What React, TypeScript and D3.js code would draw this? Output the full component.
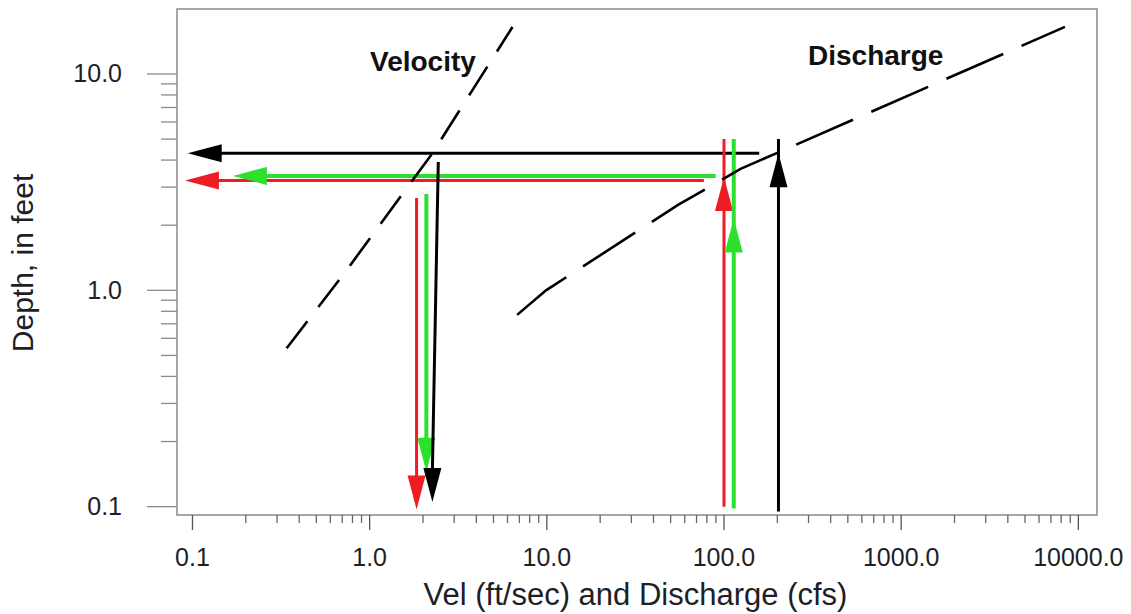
import React from "react";
import * as d3 from "d3";

// ---- data ----
const xTickValues = [0.1, 1, 10, 100, 1000, 10000];
const xTickLabels = ["0.1", "1.0", "10.0", "100.0", "1000.0", "10000.0"];
const yTickValues = [0.1, 1, 10];
const yTickLabels = ["0.1", "1.0", "10.0"];

// velocity curve [vel ft/s, depth ft]
const velocityCurve: [number, number][] = [
  [0.34, 0.54],
  [0.72, 1.2],
  [2.26, 4.3],
  [6.4, 16.5],
];
// discharge curve [cfs, depth ft]
const dischargeCurve: [number, number][] = [
  [6.8, 0.77],
  [9.9, 1.0],
  [55, 2.48],
  [124, 3.64],
  [8400, 16.5],
];

// horizontal arrows pointing left: depth, start x value, tip x value
const hArrowColors = ["#ee1c25", "#2ee02e", "#000000"];
const hArrowDepths = [3.22, 3.38, 4.3];
const hArrowStarts = [77, 89.7, 158];
const hArrowTips = [0.0907, 0.169, 0.094];

// vertical arrows pointing down (velocity read-off)
const vDownColors = ["#ee1c25", "#2ee02e", "#000000"];
const vDownXTop = [1.84, 2.09, 2.44];
const vDownXTip = [1.84, 2.09, 2.26];
const vDownTop = [2.67, 2.79, 3.92];
const vDownTip = [0.097, 0.145, 0.105];

// vertical arrows pointing up (discharge)
const vUpColors = ["#ee1c25", "#2ee02e", "#000000"];
const vUpX = [100, 113.5, 203];
const vUpBottom = [0.1, 0.098, 0.095];
const vUpTop = [5.0, 5.0, 5.0];
const vUpTip = [3.34, 2.15, 4.3];

const W = 1131;
const H = 614;
const left = 177, right = 1097, top = 9, bottom = 515;

const xScale = d3.scaleLog().domain([0.08178, 12743]).range([left, right]);
const yScale = d3.scaleLog().domain([0.0915, 19.97]).range([bottom, top]);

const font = "'Liberation Sans', Arial, sans-serif";
const axisColor = "#8a8a8a";
const textColor = "#1e1e28";

const headLen = 34;
const headHalf = 9;

function widthOf(c: string) {
  return c === "#2ee02e" ? 4 : 3;
}

export default function App() {
  const line = d3
    .line<[number, number]>()
    .x((d) => xScale(d[0]))
    .y((d) => yScale(d[1]));

  const xMinor = xScale.ticks().filter((v) => v >= 0.1 - 1e-9 && v <= 10000 + 1e-6);
  const yMinor = yScale.ticks().filter((v) => v >= 0.1 - 1e-9 && v <= 10 + 1e-6);
  const isMajor = (v: number) => Math.abs(Math.log10(v) - Math.round(Math.log10(v))) < 1e-6;

  return (
    <svg
      width={W}
      height={H}
      style={{ position: "absolute", left: 0, top: 0, background: "#ffffff" }}
    >
      <rect x={0} y={0} width={W} height={H} fill="#ffffff" />
      {/* frame */}
      <rect
        x={left}
        y={top}
        width={right - left}
        height={bottom - top}
        fill="none"
        stroke={axisColor}
        strokeWidth={1.5}
      />
      {/* x ticks */}
      {xMinor.map((v, i) => (
        <line
          key={"xt" + i}
          x1={xScale(v)}
          x2={xScale(v)}
          y1={bottom}
          y2={bottom + (isMajor(v) ? 15 : 8)}
          stroke={isMajor(v) ? "#555" : "#666"}
          strokeWidth={1.3}
        />
      ))}
      {xTickValues.map((v, i) => (
        <text
          key={"xl" + i}
          x={xScale(v)}
          y={566}
          textAnchor="middle"
          fontFamily={font}
          fontSize={25}
          fill={textColor}
        >
          {xTickLabels[i]}
        </text>
      ))}
      {/* y ticks */}
      {yMinor.map((v, i) => (
        <line
          key={"yt" + i}
          x1={left - (isMajor(v) ? 30 : 16)}
          x2={left}
          y1={yScale(v)}
          y2={yScale(v)}
          stroke={axisColor}
          strokeWidth={1.3}
        />
      ))}
      {yTickValues.map((v, i) => (
        <text
          key={"yl" + i}
          x={122}
          y={yScale(v) + 8.5}
          textAnchor="end"
          fontFamily={font}
          fontSize={25}
          fill={textColor}
        >
          {yTickLabels[i]}
        </text>
      ))}
      {/* axis titles */}
      <text
        x={635.5}
        y={605}
        textAnchor="middle"
        fontFamily={font}
        fontSize={31}
        fill={textColor}
      >
        Vel (ft/sec) and Discharge (cfs)
      </text>
      <text
        transform="translate(33,263) rotate(-90)"
        textAnchor="middle"
        fontFamily={font}
        fontSize={30}
        fill={textColor}
      >
        Depth, in feet
      </text>

      {/* horizontal arrows */}
      {hArrowColors.map((c, i) => {
        const y = yScale(hArrowDepths[i]);
        const x0 = xScale(hArrowStarts[i]);
        const tip = xScale(hArrowTips[i]);
        return (
          <g key={"ha" + i}>
            <line x1={x0} x2={tip + headLen - 2} y1={y} y2={y} stroke={c} strokeWidth={widthOf(c)} />
            <polygon
              points={`${tip},${y} ${tip + headLen},${y - headHalf} ${tip + headLen},${y + headHalf}`}
              fill={c}
            />
          </g>
        );
      })}

      {/* vertical up arrows (discharge) */}
      {vUpColors.map((c, i) => {
        const x = xScale(vUpX[i]);
        const yb = yScale(vUpBottom[i]);
        const yt = yScale(vUpTop[i]);
        const tip = yScale(vUpTip[i]);
        return (
          <g key={"vu" + i}>
            <line x1={x} x2={x} y1={yb} y2={yt} stroke={c} strokeWidth={widthOf(c)} />
            <polygon
              points={`${x},${tip} ${x - headHalf},${tip + headLen} ${x + headHalf},${tip + headLen}`}
              fill={c}
            />
          </g>
        );
      })}

      {/* vertical down arrows (velocity) */}
      {vDownColors.map((c, i) => {
        const xt = xScale(vDownXTop[i]);
        const xb = xScale(vDownXTip[i]);
        const yt = yScale(vDownTop[i]);
        const tip = yScale(vDownTip[i]);
        return (
          <g key={"vd" + i}>
            <line x1={xt} x2={xb} y1={yt} y2={tip - headLen + 2} stroke={c} strokeWidth={widthOf(c)} />
            <polygon
              points={`${xb},${tip} ${xb - headHalf},${tip - headLen} ${xb + headHalf},${tip - headLen}`}
              fill={c}
            />
          </g>
        );
      })}

      {/* curves */}
      <path
        d={line(velocityCurve) || ""}
        fill="none"
        stroke="#000"
        strokeWidth={2.6}
        strokeDasharray="34,18"
      />
      <path
        d={line(dischargeCurve) || ""}
        fill="none"
        stroke="#000"
        strokeWidth={2.6}
        strokeDasharray="62,20"
      />

      {/* labels */}
      <text x={370} y={71} fontFamily={font} fontWeight="bold" fontSize={28} fill="#111">
        Velocity
      </text>
      <text x={808} y={65} fontFamily={font} fontWeight="bold" fontSize={28} fill="#111">
        Discharge
      </text>
    </svg>
  );
}
